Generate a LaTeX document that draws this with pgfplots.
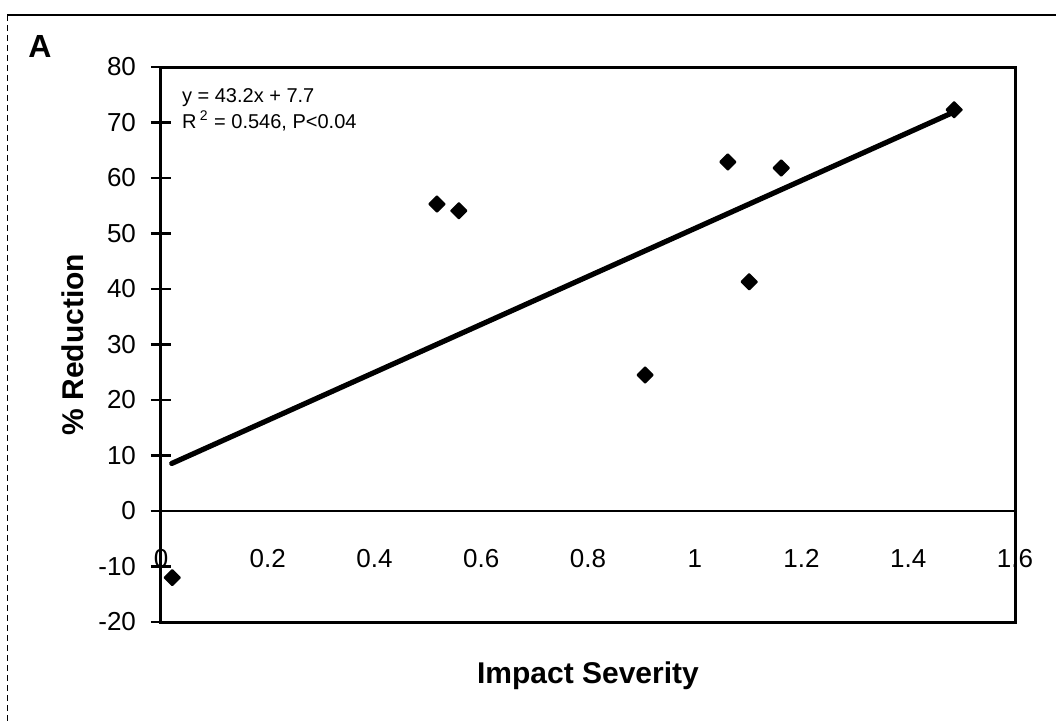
\documentclass[border=0pt]{standalone}
\usepackage{fontspec}
\setmainfont{Liberation Sans}
\usepackage{pgfplots}
\pgfplotsset{compat=1.18}

\begin{document}
\begin{tikzpicture}
\useasboundingbox (0,0) rectangle (528pt,362pt);
% scanned outer frame (top and left edges only)
\draw[line width=1pt] (3.5pt,354.5pt) -- (528pt,354.5pt);
\draw[line width=0.5pt, densely dashed] (3.5pt,354.5pt) -- (3.5pt,0pt);
\node[font=\fontsize{16}{18}\selectfont\bfseries] at (20pt,339pt) {A};

\begin{axis}[
at={(80.5pt,51pt)}, anchor=south west,
scale only axis,
width=427pt, height=277.5pt,
xmin=0, xmax=1.6,
ymin=-20, ymax=80,
xtick={0,0.2,0.4,0.6,0.8,1,1.2,1.4,1.6},
xticklabels={0,0.2,0.4,0.6,0.8,1,1.2,1.4,1.6},
ytick={-20,-10,...,80},
axis line style={line width=1.5pt},
tick align=center,
ytick pos=left,
major tick length=10pt,
ytick style={line width=1.2pt, black},
xtick style={draw=none},
/pgf/number format/assume math mode=true,
ticklabel style={font=\fontsize{13}{15}\selectfont},
xticklabel style={anchor=base, yshift=32.5pt},
yticklabel style={xshift=-4pt},
extra y ticks={0},
extra y tick labels={},
extra y tick style={grid=major, major grid style={black, line width=1.3pt}},
xlabel={\textbf{Impact Severity}},
ylabel={\textbf{\% Reduction}},
label style={font=\fontsize{15}{17}\selectfont},
xlabel style={at={([yshift=-27pt]axis description cs:0.5,0)}, anchor=center},
ylabel style={at={([xshift=-44pt]axis description cs:0,0.5)}, anchor=center},
clip=false,
]
% regression line
\addplot[black, line width=2.6pt, line cap=round] coordinates {
(0.02,8.56) (1.486,71.9)
};
% observations
\addplot[only marks, black, mark=square*, mark size=2.7pt,
  mark options={rotate=45, line width=1pt, line join=round}] coordinates {
(0.021,-12.0)
(0.517,55.3)
(0.558,54.1)
(0.907,24.5)
(1.062,62.9)
(1.102,41.3)
(1.162,61.8)
(1.486,72.3)
};
\node[anchor=north west, align=left, font=\fontsize{10}{13}\selectfont]
  at ([xshift=7pt,yshift=-7pt]rel axis cs:0,1)
  {y = 43.2x + 7.7\\R\,\textsuperscript{2} = 0.546, P<0.04};
\end{axis}
\end{tikzpicture}
\end{document}
